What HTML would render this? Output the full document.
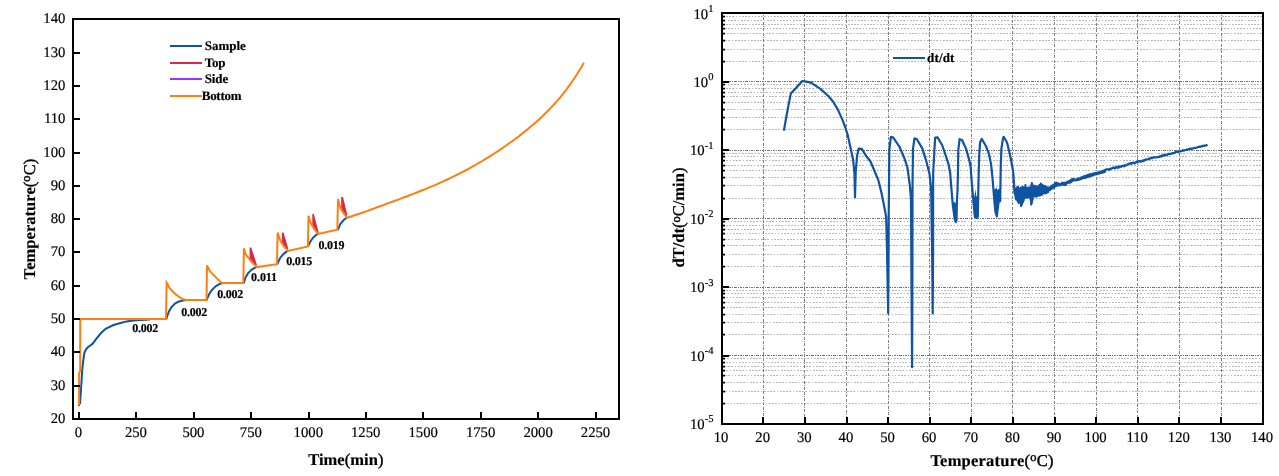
<!DOCTYPE html>
<html lang="en"><head><meta charset="utf-8"><title>Temperature curves</title>
<style>
html,body{margin:0;padding:0;background:#fff;}
body{width:1279px;height:476px;overflow:hidden;font-family:"Liberation Serif", "DejaVu Serif", serif;}
svg{display:block;}
svg text{stroke:#000;stroke-width:0.18px;}
svg .sb{stroke-width:0.4px;}
</style></head>
<body>
<svg width="1279" height="476" viewBox="0 0 1279 476" font-family='"Liberation Serif", "DejaVu Serif", serif' fill="#000" text-rendering="geometricPrecision">
<rect x="0" y="0" width="1279" height="476" fill="#fff"/>
<path d="M80.0,404.2 L80.7,394.0 L81.6,380.2 L82.2,370.2 L83.2,361.0 L84.3,353.0 L86.0,349.3 L88.5,346.8 L92.8,343.6 L96.0,339.2 L101.0,333.0 L106.0,328.6 L113.5,325.0 L120.4,323.0 L126.7,321.4 L133.0,320.4 L140.5,319.9 L150.0,319.5" fill="none" stroke="#0f53a3" stroke-width="2" stroke-linejoin="round"/>
<path d="M166.5,319.0 L167.0,316.6 L168.9,311.6 L171.4,307.2 L175.2,303.4 L179.0,301.5 L182.8,300.5 L186.5,300.0" fill="none" stroke="#0f53a3" stroke-width="2" stroke-linejoin="round"/>
<path d="M206.8,300.0 L207.3,298.3 L209.2,294.0 L211.7,290.2 L215.5,286.4 L219.3,284.1 L222.5,283.0" fill="none" stroke="#0f53a3" stroke-width="2" stroke-linejoin="round"/>
<path d="M243.6,283.0 L244.1,282.5 L245.4,277.8 L247.9,273.4 L251.7,269.6 L255.5,267.3 L256.7,267.1" fill="none" stroke="#0f53a3" stroke-width="2" stroke-linejoin="round"/>
<path d="M277.5,264.2 L277.9,262.9 L280.2,257.9 L283.3,254.1 L286.5,251.6 L288.0,250.9" fill="none" stroke="#0f53a3" stroke-width="2" stroke-linejoin="round"/>
<path d="M308.2,246.5 L308.5,245.3 L310.4,241.5 L313.0,237.7 L316.1,234.9 L318.0,234.0" fill="none" stroke="#0f53a3" stroke-width="2" stroke-linejoin="round"/>
<path d="M337.6,229.8 L338.3,229.1 L340.2,224.1 L343.4,220.3 L346.5,217.8 L347.2,217.8" fill="none" stroke="#0f53a3" stroke-width="2" stroke-linejoin="round"/>
<polygon points="249.6,247.4 251.2,247.4 257.0,265.0 255.8,266.2 250.6,259.5 249.6,258.5" fill="#d62a48"/>
<polygon points="281.9,232.5 283.5,232.5 288.3,248.8 287.0,250.0 282.8,244.0 281.9,243.0" fill="#d62a48"/>
<polygon points="312.3,214.0 313.8,214.0 318.8,232.8 317.5,234.0 313.2,226.0 312.3,224.5" fill="#d62a48"/>
<polygon points="341.2,196.9 343.0,196.9 347.3,215.0 346.0,216.5 342.0,209.5 341.2,208.0" fill="#d62a48"/>
<rect x="78" y="404" width="2" height="2" fill="#d62a48"/>
<path d="M79.1,405.0 L79.1,373.0 L80.2,371.0 L80.2,319.0 L166.0,319.0 L166.6,282.8 L168.3,285.8 L170.2,288.9 L175.2,293.9 L180.2,297.7 L184.0,299.6 L186.5,300.0 L206.5,300.0 L207.0,265.5 L210.1,271.5 L215.2,276.6 L220.2,281.6 L222.1,283.0 L243.3,283.0 L243.9,248.2 L245.4,253.9 L249.2,258.9 L253.0,263.3 L256.7,267.1 L277.0,264.2 L277.6,232.7 L280.2,240.2 L284.0,246.5 L288.0,250.9 L307.9,246.5 L308.5,215.7 L310.4,222.6 L314.2,228.9 L318.0,234.0 L337.3,229.8 L338.0,198.9 L340.2,207.7 L344.0,214.0 L347.2,217.8 L350.2,216.8 L353.2,215.8 L356.2,214.8 L359.2,213.8 L362.2,212.7 L365.2,211.6 L368.2,210.6 L371.2,209.5 L374.2,208.4 L377.2,207.3 L380.2,206.2 L383.2,205.1 L386.2,204.0 L389.2,202.9 L392.2,201.8 L395.2,200.7 L398.2,199.6 L401.2,198.4 L404.2,197.3 L407.2,196.2 L410.2,195.0 L413.2,193.9 L416.2,192.7 L419.2,191.5 L422.2,190.3 L425.2,189.1 L428.2,187.9 L431.2,186.6 L434.2,185.4 L437.2,184.1 L440.2,182.7 L443.2,181.4 L446.2,180.0 L449.2,178.6 L452.2,177.1 L455.2,175.7 L458.2,174.2 L461.2,172.6 L464.2,171.1 L467.2,169.5 L470.2,167.8 L473.2,166.2 L476.2,164.5 L479.2,162.7 L482.2,161.0 L485.2,159.2 L488.2,157.3 L491.2,155.4 L494.2,153.5 L497.2,151.6 L500.2,149.6 L503.2,147.5 L506.2,145.5 L509.2,143.3 L512.2,141.2 L515.2,139.0 L518.2,136.7 L521.2,134.4 L524.2,132.0 L527.2,129.6 L530.2,127.1 L533.2,124.5 L536.2,121.9 L539.2,119.2 L542.2,116.4 L545.2,113.5 L548.2,110.5 L551.2,107.4 L554.2,104.2 L557.2,100.8 L560.2,97.3 L563.2,93.6 L566.2,89.8 L569.2,85.7 L572.2,81.5 L575.2,77.0 L578.2,72.3 L581.2,67.4 L583.8,62.8" fill="none" stroke="#ff7f0e" stroke-width="2" stroke-linejoin="miter"/>
<rect x="73" y="19" width="546" height="400" fill="none" stroke="#000" stroke-width="2"/>
<text x="65.4" y="423.1" font-size="14.7" text-anchor="end">20</text>
<line x1="73" y1="386.00" x2="80" y2="386.00" stroke="#000" stroke-width="2"/>
<text x="65.4" y="390.1" font-size="14.7" text-anchor="end">30</text>
<line x1="73" y1="352.00" x2="80" y2="352.00" stroke="#000" stroke-width="2"/>
<text x="65.4" y="356.1" font-size="14.7" text-anchor="end">40</text>
<line x1="73" y1="319.00" x2="80" y2="319.00" stroke="#000" stroke-width="2"/>
<text x="65.4" y="323.1" font-size="14.7" text-anchor="end">50</text>
<line x1="73" y1="286.00" x2="80" y2="286.00" stroke="#000" stroke-width="2"/>
<text x="65.4" y="290.1" font-size="14.7" text-anchor="end">60</text>
<line x1="73" y1="252.00" x2="80" y2="252.00" stroke="#000" stroke-width="2"/>
<text x="65.4" y="256.1" font-size="14.7" text-anchor="end">70</text>
<line x1="73" y1="219.00" x2="80" y2="219.00" stroke="#000" stroke-width="2"/>
<text x="65.4" y="223.1" font-size="14.7" text-anchor="end">80</text>
<line x1="73" y1="186.00" x2="80" y2="186.00" stroke="#000" stroke-width="2"/>
<text x="65.4" y="190.1" font-size="14.7" text-anchor="end">90</text>
<line x1="73" y1="153.00" x2="80" y2="153.00" stroke="#000" stroke-width="2"/>
<text x="65.4" y="157.1" font-size="14.7" text-anchor="end">100</text>
<line x1="73" y1="119.00" x2="80" y2="119.00" stroke="#000" stroke-width="2"/>
<text x="65.4" y="123.1" font-size="14.7" text-anchor="end">110</text>
<line x1="73" y1="86.00" x2="80" y2="86.00" stroke="#000" stroke-width="2"/>
<text x="65.4" y="90.1" font-size="14.7" text-anchor="end">120</text>
<line x1="73" y1="53.00" x2="80" y2="53.00" stroke="#000" stroke-width="2"/>
<text x="65.4" y="57.1" font-size="14.7" text-anchor="end">130</text>
<text x="65.4" y="23.1" font-size="14.7" text-anchor="end">140</text>
<line x1="79" y1="419" x2="79" y2="412" stroke="#000" stroke-width="2"/>
<text x="78.5" y="437.1" font-size="14.7" text-anchor="middle">0</text>
<line x1="136" y1="419" x2="136" y2="412" stroke="#000" stroke-width="2"/>
<text x="135.9" y="437.1" font-size="14.7" text-anchor="middle">250</text>
<line x1="194" y1="419" x2="194" y2="412" stroke="#000" stroke-width="2"/>
<text x="193.4" y="437.1" font-size="14.7" text-anchor="middle">500</text>
<line x1="251" y1="419" x2="251" y2="412" stroke="#000" stroke-width="2"/>
<text x="250.8" y="437.1" font-size="14.7" text-anchor="middle">750</text>
<line x1="309" y1="419" x2="309" y2="412" stroke="#000" stroke-width="2"/>
<text x="308.3" y="437.1" font-size="14.7" text-anchor="middle">1000</text>
<line x1="366" y1="419" x2="366" y2="412" stroke="#000" stroke-width="2"/>
<text x="365.7" y="437.1" font-size="14.7" text-anchor="middle">1250</text>
<line x1="423" y1="419" x2="423" y2="412" stroke="#000" stroke-width="2"/>
<text x="423.2" y="437.1" font-size="14.7" text-anchor="middle">1500</text>
<line x1="481" y1="419" x2="481" y2="412" stroke="#000" stroke-width="2"/>
<text x="480.6" y="437.1" font-size="14.7" text-anchor="middle">1750</text>
<line x1="538" y1="419" x2="538" y2="412" stroke="#000" stroke-width="2"/>
<text x="538.1" y="437.1" font-size="14.7" text-anchor="middle">2000</text>
<line x1="596" y1="419" x2="596" y2="412" stroke="#000" stroke-width="2"/>
<text x="595.5" y="437.1" font-size="14.7" text-anchor="middle">2250</text>
<text x="345.8" y="464.7" font-size="16.5" font-weight="bold" text-anchor="middle" textLength="75.3" lengthAdjust="spacing">Time<tspan class="sb" font-weight="normal">(</tspan>min<tspan class="sb" font-weight="normal">)</tspan></text>
<text transform="translate(35,219.1) rotate(-90)" font-size="16.5" text-anchor="middle" textLength="120.6" lengthAdjust="spacing"><tspan font-weight="bold">Temperature</tspan><tspan class="sb">(</tspan><tspan class="sb" font-size="12.5" dy="-4.6">o</tspan><tspan class="sb" dy="4.6">C)</tspan></text>
<line x1="170" y1="46" x2="202" y2="46" stroke="#0f53a3" stroke-width="2"/>
<text x="204.7" y="50.1" font-size="13" font-weight="bold" textLength="41.2" lengthAdjust="spacing">Sample</text>
<line x1="170" y1="63" x2="202" y2="63" stroke="#d62a48" stroke-width="2"/>
<text x="204.7" y="66.9" font-size="13" font-weight="bold" textLength="20.9" lengthAdjust="spacing">Top</text>
<line x1="170" y1="79" x2="202" y2="79" stroke="#9a33ff" stroke-width="2"/>
<text x="204.7" y="83.1" font-size="13" font-weight="bold" textLength="23.5" lengthAdjust="spacing">Side</text>
<line x1="170" y1="96" x2="202" y2="96" stroke="#ff7f0e" stroke-width="2"/>
<text x="201.8" y="99.7" font-size="13" font-weight="bold" textLength="39.7" lengthAdjust="spacing">Bottom</text>
<text x="132.3" y="331.8" font-size="12" font-weight="bold" textLength="26" lengthAdjust="spacing">0.002</text>
<text x="181.2" y="316" font-size="12" font-weight="bold" textLength="26" lengthAdjust="spacing">0.002</text>
<text x="217.2" y="297.5" font-size="12" font-weight="bold" textLength="26" lengthAdjust="spacing">0.002</text>
<text x="251.1" y="280.6" font-size="12" font-weight="bold" textLength="26" lengthAdjust="spacing">0.011</text>
<text x="286.3" y="265.2" font-size="12" font-weight="bold" textLength="26" lengthAdjust="spacing">0.015</text>
<text x="318.4" y="248.5" font-size="12" font-weight="bold" textLength="26" lengthAdjust="spacing">0.019</text>
<line x1="723" y1="61.5" x2="1262" y2="61.5" stroke="#b8b8b8" stroke-width="1" stroke-dasharray="2 1 2 1 2 2 1 2" stroke-dashoffset="10"/>
<line x1="723" y1="49.5" x2="1262" y2="49.5" stroke="#b8b8b8" stroke-width="1" stroke-dasharray="2 1 2 1 2 2 1 2 1 2" stroke-dashoffset="15"/>
<line x1="723" y1="40.5" x2="1262" y2="40.5" stroke="#b8b8b8" stroke-width="1" stroke-dasharray="2 1 2 1 2 1 2 2 1 2" stroke-dashoffset="4"/>
<line x1="723" y1="33.5" x2="1262" y2="33.5" stroke="#b8b8b8" stroke-width="1" stroke-dasharray="2 1 2 1 2 2 1 2" stroke-dashoffset="9"/>
<line x1="723" y1="28.5" x2="1262" y2="28.5" stroke="#b8b8b8" stroke-width="1" stroke-dasharray="2 1 2 1 2 2 1 2 1 2" stroke-dashoffset="14"/>
<line x1="723" y1="24.5" x2="1262" y2="24.5" stroke="#b8b8b8" stroke-width="1" stroke-dasharray="2 1 2 1 2 1 2 2 1 2" stroke-dashoffset="3"/>
<line x1="723" y1="20.5" x2="1262" y2="20.5" stroke="#b8b8b8" stroke-width="1" stroke-dasharray="2 1 2 1 2 2 1 2" stroke-dashoffset="8"/>
<line x1="723" y1="16.5" x2="1262" y2="16.5" stroke="#b8b8b8" stroke-width="1" stroke-dasharray="2 1 2 1 2 2 1 2 1 2" stroke-dashoffset="13"/>
<line x1="723" y1="129.5" x2="1262" y2="129.5" stroke="#b8b8b8" stroke-width="1" stroke-dasharray="2 1 2 1 2 1 2 2 1 2" stroke-dashoffset="2"/>
<line x1="723" y1="117.5" x2="1262" y2="117.5" stroke="#b8b8b8" stroke-width="1" stroke-dasharray="2 1 2 1 2 2 1 2" stroke-dashoffset="7"/>
<line x1="723" y1="109.5" x2="1262" y2="109.5" stroke="#b8b8b8" stroke-width="1" stroke-dasharray="2 1 2 1 2 2 1 2 1 2" stroke-dashoffset="12"/>
<line x1="723" y1="102.5" x2="1262" y2="102.5" stroke="#b8b8b8" stroke-width="1" stroke-dasharray="2 1 2 1 2 1 2 2 1 2" stroke-dashoffset="1"/>
<line x1="723" y1="96.5" x2="1262" y2="96.5" stroke="#b8b8b8" stroke-width="1" stroke-dasharray="2 1 2 1 2 2 1 2" stroke-dashoffset="6"/>
<line x1="723" y1="92.5" x2="1262" y2="92.5" stroke="#b8b8b8" stroke-width="1" stroke-dasharray="2 1 2 1 2 2 1 2 1 2" stroke-dashoffset="11"/>
<line x1="723" y1="88.5" x2="1262" y2="88.5" stroke="#b8b8b8" stroke-width="1" stroke-dasharray="2 1 2 1 2 1 2 2 1 2" stroke-dashoffset="0"/>
<line x1="723" y1="84.5" x2="1262" y2="84.5" stroke="#b8b8b8" stroke-width="1" stroke-dasharray="2 1 2 1 2 2 1 2" stroke-dashoffset="5"/>
<line x1="723" y1="198.5" x2="1262" y2="198.5" stroke="#b8b8b8" stroke-width="1" stroke-dasharray="2 1 2 1 2 2 1 2 1 2" stroke-dashoffset="10"/>
<line x1="723" y1="185.5" x2="1262" y2="185.5" stroke="#b8b8b8" stroke-width="1" stroke-dasharray="2 1 2 1 2 1 2 2 1 2" stroke-dashoffset="15"/>
<line x1="723" y1="177.5" x2="1262" y2="177.5" stroke="#b8b8b8" stroke-width="1" stroke-dasharray="2 1 2 1 2 2 1 2" stroke-dashoffset="4"/>
<line x1="723" y1="170.5" x2="1262" y2="170.5" stroke="#b8b8b8" stroke-width="1" stroke-dasharray="2 1 2 1 2 2 1 2 1 2" stroke-dashoffset="9"/>
<line x1="723" y1="165.5" x2="1262" y2="165.5" stroke="#b8b8b8" stroke-width="1" stroke-dasharray="2 1 2 1 2 1 2 2 1 2" stroke-dashoffset="14"/>
<line x1="723" y1="160.5" x2="1262" y2="160.5" stroke="#b8b8b8" stroke-width="1" stroke-dasharray="2 1 2 1 2 2 1 2" stroke-dashoffset="3"/>
<line x1="723" y1="156.5" x2="1262" y2="156.5" stroke="#b8b8b8" stroke-width="1" stroke-dasharray="2 1 2 1 2 2 1 2 1 2" stroke-dashoffset="8"/>
<line x1="723" y1="153.5" x2="1262" y2="153.5" stroke="#b8b8b8" stroke-width="1" stroke-dasharray="2 1 2 1 2 1 2 2 1 2" stroke-dashoffset="13"/>
<line x1="723" y1="266.5" x2="1262" y2="266.5" stroke="#b8b8b8" stroke-width="1" stroke-dasharray="2 1 2 1 2 2 1 2" stroke-dashoffset="2"/>
<line x1="723" y1="254.5" x2="1262" y2="254.5" stroke="#b8b8b8" stroke-width="1" stroke-dasharray="2 1 2 1 2 2 1 2 1 2" stroke-dashoffset="7"/>
<line x1="723" y1="245.5" x2="1262" y2="245.5" stroke="#b8b8b8" stroke-width="1" stroke-dasharray="2 1 2 1 2 1 2 2 1 2" stroke-dashoffset="12"/>
<line x1="723" y1="239.5" x2="1262" y2="239.5" stroke="#b8b8b8" stroke-width="1" stroke-dasharray="2 1 2 1 2 2 1 2" stroke-dashoffset="1"/>
<line x1="723" y1="233.5" x2="1262" y2="233.5" stroke="#b8b8b8" stroke-width="1" stroke-dasharray="2 1 2 1 2 2 1 2 1 2" stroke-dashoffset="6"/>
<line x1="723" y1="229.5" x2="1262" y2="229.5" stroke="#b8b8b8" stroke-width="1" stroke-dasharray="2 1 2 1 2 1 2 2 1 2" stroke-dashoffset="11"/>
<line x1="723" y1="225.5" x2="1262" y2="225.5" stroke="#b8b8b8" stroke-width="1" stroke-dasharray="2 1 2 1 2 2 1 2" stroke-dashoffset="0"/>
<line x1="723" y1="221.5" x2="1262" y2="221.5" stroke="#b8b8b8" stroke-width="1" stroke-dasharray="2 1 2 1 2 2 1 2 1 2" stroke-dashoffset="5"/>
<line x1="723" y1="334.5" x2="1262" y2="334.5" stroke="#b8b8b8" stroke-width="1" stroke-dasharray="2 1 2 1 2 1 2 2 1 2" stroke-dashoffset="10"/>
<line x1="723" y1="322.5" x2="1262" y2="322.5" stroke="#b8b8b8" stroke-width="1" stroke-dasharray="2 1 2 1 2 2 1 2" stroke-dashoffset="15"/>
<line x1="723" y1="314.5" x2="1262" y2="314.5" stroke="#b8b8b8" stroke-width="1" stroke-dasharray="2 1 2 1 2 2 1 2 1 2" stroke-dashoffset="4"/>
<line x1="723" y1="307.5" x2="1262" y2="307.5" stroke="#b8b8b8" stroke-width="1" stroke-dasharray="2 1 2 1 2 1 2 2 1 2" stroke-dashoffset="9"/>
<line x1="723" y1="302.5" x2="1262" y2="302.5" stroke="#b8b8b8" stroke-width="1" stroke-dasharray="2 1 2 1 2 2 1 2" stroke-dashoffset="14"/>
<line x1="723" y1="297.5" x2="1262" y2="297.5" stroke="#b8b8b8" stroke-width="1" stroke-dasharray="2 1 2 1 2 2 1 2 1 2" stroke-dashoffset="3"/>
<line x1="723" y1="293.5" x2="1262" y2="293.5" stroke="#b8b8b8" stroke-width="1" stroke-dasharray="2 1 2 1 2 1 2 2 1 2" stroke-dashoffset="8"/>
<line x1="723" y1="290.5" x2="1262" y2="290.5" stroke="#b8b8b8" stroke-width="1" stroke-dasharray="2 1 2 1 2 2 1 2" stroke-dashoffset="13"/>
<line x1="723" y1="403.5" x2="1262" y2="403.5" stroke="#b8b8b8" stroke-width="1" stroke-dasharray="2 1 2 1 2 2 1 2 1 2" stroke-dashoffset="2"/>
<line x1="723" y1="391.5" x2="1262" y2="391.5" stroke="#b8b8b8" stroke-width="1" stroke-dasharray="2 1 2 1 2 1 2 2 1 2" stroke-dashoffset="7"/>
<line x1="723" y1="382.5" x2="1262" y2="382.5" stroke="#b8b8b8" stroke-width="1" stroke-dasharray="2 1 2 1 2 2 1 2" stroke-dashoffset="12"/>
<line x1="723" y1="375.5" x2="1262" y2="375.5" stroke="#b8b8b8" stroke-width="1" stroke-dasharray="2 1 2 1 2 2 1 2 1 2" stroke-dashoffset="1"/>
<line x1="723" y1="370.5" x2="1262" y2="370.5" stroke="#b8b8b8" stroke-width="1" stroke-dasharray="2 1 2 1 2 1 2 2 1 2" stroke-dashoffset="6"/>
<line x1="723" y1="366.5" x2="1262" y2="366.5" stroke="#b8b8b8" stroke-width="1" stroke-dasharray="2 1 2 1 2 2 1 2" stroke-dashoffset="11"/>
<line x1="723" y1="362.5" x2="1262" y2="362.5" stroke="#b8b8b8" stroke-width="1" stroke-dasharray="2 1 2 1 2 2 1 2 1 2" stroke-dashoffset="0"/>
<line x1="723" y1="358.5" x2="1262" y2="358.5" stroke="#b8b8b8" stroke-width="1" stroke-dasharray="2 1 2 1 2 1 2 2 1 2" stroke-dashoffset="5"/>
<line x1="723" y1="81.5" x2="1262" y2="81.5" stroke="#727272" stroke-width="1" stroke-dasharray="3 1 1 1 2 1 1 1"/>
<line x1="723" y1="150.5" x2="1262" y2="150.5" stroke="#727272" stroke-width="1" stroke-dasharray="3 1 1 1 2 1 1 1"/>
<line x1="723" y1="218.5" x2="1262" y2="218.5" stroke="#727272" stroke-width="1" stroke-dasharray="3 1 1 1 2 1 1 1"/>
<line x1="723" y1="287.5" x2="1262" y2="287.5" stroke="#727272" stroke-width="1" stroke-dasharray="3 1 1 1 2 1 1 1"/>
<line x1="723" y1="355.5" x2="1262" y2="355.5" stroke="#727272" stroke-width="1" stroke-dasharray="3 1 1 1 2 1 1 1"/>
<line x1="763.5" y1="14" x2="763.5" y2="423" stroke="#828282" stroke-width="1" stroke-dasharray="3 2 3 1 1 1" stroke-dashoffset="8"/>
<line x1="804.5" y1="14" x2="804.5" y2="423" stroke="#828282" stroke-width="1" stroke-dasharray="3 2 3 1 1 1" stroke-dashoffset="1"/>
<line x1="846.5" y1="14" x2="846.5" y2="423" stroke="#828282" stroke-width="1" stroke-dasharray="3 2 3 1 1 1" stroke-dashoffset="5"/>
<line x1="888.5" y1="14" x2="888.5" y2="423" stroke="#828282" stroke-width="1" stroke-dasharray="3 2 3 1 1 1" stroke-dashoffset="9"/>
<line x1="929.5" y1="14" x2="929.5" y2="423" stroke="#828282" stroke-width="1" stroke-dasharray="3 2 3 1 1 1" stroke-dashoffset="2"/>
<line x1="971.5" y1="14" x2="971.5" y2="423" stroke="#828282" stroke-width="1" stroke-dasharray="3 2 3 1 1 1" stroke-dashoffset="6"/>
<line x1="1012.5" y1="14" x2="1012.5" y2="423" stroke="#828282" stroke-width="1" stroke-dasharray="3 2 3 1 1 1" stroke-dashoffset="10"/>
<line x1="1054.5" y1="14" x2="1054.5" y2="423" stroke="#828282" stroke-width="1" stroke-dasharray="3 2 3 1 1 1" stroke-dashoffset="3"/>
<line x1="1096.5" y1="14" x2="1096.5" y2="423" stroke="#828282" stroke-width="1" stroke-dasharray="3 2 3 1 1 1" stroke-dashoffset="7"/>
<line x1="1137.5" y1="14" x2="1137.5" y2="423" stroke="#828282" stroke-width="1" stroke-dasharray="3 2 3 1 1 1" stroke-dashoffset="0"/>
<line x1="1179.5" y1="14" x2="1179.5" y2="423" stroke="#828282" stroke-width="1" stroke-dasharray="3 2 3 1 1 1" stroke-dashoffset="4"/>
<line x1="1221.5" y1="14" x2="1221.5" y2="423" stroke="#828282" stroke-width="1" stroke-dasharray="3 2 3 1 1 1" stroke-dashoffset="8"/>
<path d="M783.9,130.6 L786.5,115.7 L788.9,103.1 L790.8,93.6 L796.0,88.1 L802.3,81.0 L806.0,81.6 L810.9,82.6 L820.4,88.9 L828.3,96.0 L833.0,101.5 L837.7,109.4 L842.4,119.6 L845.0,126.5 L847.6,134.6 L850.0,145.5 L853.1,159.6 L854.5,173.8 L855.0,197.4 L855.7,172.2 L857.0,156.5 L858.6,148.6 L861.8,148.9 L866.5,156.5 L870.4,161.2 L874.4,170.7 L878.3,180.1 L881.5,193.0 L883.8,204.4 L886.2,217.0 L887.0,250.0 L888.2,313.3 L888.6,250.0 L888.7,217.0 L889.3,150.2 L890.9,136.8 L893.3,137.6 L899.6,147.0 L904.3,158.0 L907.4,167.5 L909.8,184.8 L911.0,199.0 L911.5,285.0 L912.1,367.2 L912.4,285.0 L912.5,188.0 L913.0,148.6 L914.5,138.4 L916.9,139.2 L922.4,148.6 L926.3,161.2 L929.5,173.8 L931.1,188.0 L932.1,250.0 L932.7,313.3 L933.1,250.0 L933.1,200.0 L933.2,172.2 L934.4,150.2 L935.2,137.6 L937.6,137.3 L942.3,145.5 L945.5,154.9 L948.6,164.4 L950.2,173.0 L951.1,185.0 L952.7,204.0 L954.9,220.4 L955.9,222.0 L956.5,220.4 L956.9,201.5 L957.5,191.0 L958.0,170.0 L958.3,150.2 L959.6,139.2 L962.0,140.0 L966.0,148.6 L969.1,159.6 L970.7,167.0 L971.4,178.0 L972.1,186.4 L973.4,201.5 L974.8,216.2 L975.5,217.5 L977.3,217.5 L977.8,216.2 L978.4,186.4 L978.7,172.2 L979.3,153.3 L980.1,142.3 L981.7,138.9 L985.6,145.5 L988.8,153.3 L991.1,164.4 L992.8,181.7 L994.2,199.0 L995.4,211.6 L996.9,216.5 L997.4,211.0 L998.6,202.0 L1000.2,201.0 L1000.5,182.6 L1000.8,164.4 L1001.4,148.6 L1003.0,138.4 L1003.7,136.8 L1006.9,142.3 L1009.3,151.8 L1011.6,162.8 L1013.2,172.2 L1013.9,182.0 L1014.4,191.2 L1014.6,193.4 L1014.9,191.3 L1015.1,195.0 L1015.4,190.8 L1015.6,197.3 L1015.9,189.1 L1016.1,199.5 L1016.4,188.3 L1016.6,199.4 L1016.9,187.5 L1017.1,198.2 L1017.4,188.1 L1017.6,201.0 L1017.9,186.8 L1018.1,199.2 L1018.4,189.2 L1018.6,203.0 L1018.9,189.2 L1019.1,201.5 L1019.4,191.3 L1019.6,200.7 L1019.9,191.2 L1020.1,202.6 L1020.4,187.9 L1020.6,202.4 L1020.9,188.5 L1021.1,206.0 L1021.4,187.7 L1021.6,205.0 L1021.9,189.8 L1022.1,204.1 L1022.4,189.2 L1022.6,202.6 L1022.9,186.8 L1023.1,201.6 L1023.4,189.5 L1023.6,200.5 L1023.9,188.2 L1024.2,198.7 L1024.4,187.8 L1024.7,196.5 L1024.9,187.6 L1025.2,197.2 L1025.4,185.2 L1025.7,196.5 L1025.9,187.1 L1026.2,197.7 L1026.4,188.6 L1026.7,196.1 L1026.9,190.0 L1027.2,195.9 L1027.4,188.5 L1027.7,197.6 L1027.9,187.9 L1028.2,196.8 L1028.4,187.7 L1028.7,197.2 L1028.9,189.7 L1029.2,196.9 L1029.4,190.0 L1029.7,196.2 L1029.9,188.8 L1030.2,198.3 L1030.4,187.1 L1030.7,199.9 L1030.9,187.2 L1031.2,204.6 L1031.4,184.5 L1031.7,203.5 L1031.9,183.2 L1032.2,201.0 L1032.4,186.6 L1032.7,199.4 L1032.9,187.5 L1033.2,194.7 L1033.4,186.4 L1033.7,195.9 L1033.9,185.6 L1034.2,195.4 L1034.4,186.2 L1034.7,194.6 L1034.9,186.1 L1035.2,196.5 L1035.4,186.5 L1035.7,195.2 L1035.9,187.3 L1036.2,196.7 L1036.4,186.4 L1036.7,195.2 L1036.9,187.6 L1037.2,196.0 L1037.4,188.2 L1037.7,195.6 L1037.9,186.7 L1038.2,194.3 L1038.4,186.5 L1038.7,195.7 L1038.9,187.8 L1039.2,194.0 L1039.4,185.1 L1039.7,194.3 L1039.9,184.8 L1040.2,195.3 L1040.4,185.6 L1040.7,194.7 L1040.9,183.6 L1041.2,194.8 L1041.4,184.8 L1041.7,194.7 L1041.9,186.5 L1042.2,194.4 L1042.4,185.2 L1042.7,193.6 L1042.9,185.6 L1043.2,191.6 L1043.4,186.3 L1043.7,193.0 L1043.9,186.7 L1044.2,193.3 L1044.4,186.0 L1044.7,192.6 L1044.9,185.9 L1045.2,193.3 L1045.4,186.3 L1045.7,192.3 L1045.9,187.1 L1046.2,192.8 L1046.4,187.8 L1046.7,192.8 L1046.9,187.4 L1047.2,192.5 L1047.4,187.7 L1047.7,192.1 L1047.9,187.7 L1048.2,192.0 L1048.4,188.3 L1048.7,190.5 L1048.9,187.9 L1049.2,190.1 L1049.4,187.6 L1049.7,189.6 L1049.9,187.6 L1050.2,189.9 L1050.4,187.0 L1050.7,189.2 L1050.9,186.4 L1051.2,188.6 L1051.4,186.3 L1051.7,188.4 L1051.9,186.3 L1052.2,188.0 L1052.4,185.3 L1052.7,188.3 L1052.9,185.4 L1053.2,187.3 L1053.4,185.0 L1053.7,186.9 L1053.9,184.6 L1054.2,187.3 L1054.4,184.5 L1054.7,186.8 L1054.9,183.7 L1055.2,186.2 L1055.4,183.2 L1055.7,186.2 L1055.9,183.2 L1056.2,185.9 L1056.4,182.7 L1056.7,185.2 L1056.9,183.3 L1057.2,185.7 L1057.4,183.5 L1057.7,185.5 L1057.9,183.7 L1058.2,185.4 L1058.4,183.5 L1058.7,185.2 L1058.9,183.8 L1059.2,185.0 L1059.4,183.9 L1059.7,185.1 L1059.9,184.0 L1060.2,185.1 L1060.4,184.0 L1060.7,184.9 L1060.9,183.8 L1061.2,185.1 L1061.4,183.6 L1061.7,184.7 L1061.9,183.0 L1062.2,184.5 L1062.4,182.7 L1062.7,184.4 L1062.9,182.8 L1063.2,184.7 L1063.4,183.1 L1063.7,184.6 L1063.9,183.1 L1064.2,185.0 L1064.4,182.9 L1064.7,185.1 L1064.9,183.3 L1065.2,184.9 L1065.4,183.0 L1065.7,184.3 L1065.9,182.5 L1066.2,184.1 L1066.4,182.3 L1066.7,183.7 L1066.9,182.3 L1067.2,183.2 L1067.4,181.9 L1067.7,183.1 L1067.9,181.8 L1068.2,182.7 L1068.4,181.3 L1068.7,182.6 L1068.9,181.4 L1069.2,182.7 L1069.4,180.8 L1069.7,182.7 L1069.9,181.0 L1070.2,182.5 L1070.4,180.5 L1070.7,182.3 L1070.9,180.0 L1071.2,181.6 L1071.4,180.1 L1071.7,181.5 L1071.9,179.4 L1072.2,181.2 L1072.4,179.0 L1072.7,180.6 L1072.9,179.0 L1073.2,180.0 L1073.4,179.0 L1073.7,180.1 L1073.9,179.2 L1074.2,180.3 L1074.4,179.5 L1074.7,180.2 L1074.9,179.7 L1075.2,180.4 L1075.4,179.6 L1075.7,180.2 L1075.9,179.5 L1076.2,180.2 L1076.4,179.3 L1076.7,180.1 L1076.9,179.2 L1077.2,179.9 L1077.4,179.1 L1077.7,179.7 L1077.9,179.0 L1078.2,179.7 L1078.4,178.7 L1078.7,179.8 L1078.9,178.6 L1079.2,179.6 L1079.4,178.6 L1079.7,179.4 L1079.9,178.2 L1080.2,179.3 L1080.4,178.1 L1080.7,179.2 L1080.9,177.7 L1081.2,178.9 L1081.4,177.5 L1081.7,178.6 L1081.9,177.4 L1082.2,178.5 L1082.4,177.1 L1082.7,178.5 L1082.9,177.0 L1083.2,178.2 L1083.4,176.7 L1083.7,178.0 L1083.9,176.4 L1084.2,177.9 L1084.4,176.2 L1084.7,177.7 L1084.9,176.1 L1085.2,177.8 L1085.4,176.0 L1085.7,177.6 L1085.9,176.0 L1086.2,177.1 L1086.4,175.7 L1086.7,177.3 L1086.9,175.7 L1087.2,176.8 L1087.4,175.2 L1087.7,176.8 L1087.9,175.0 L1088.2,176.5 L1088.4,174.8 L1088.7,176.6 L1088.9,175.0 L1089.2,176.5 L1089.4,174.6 L1089.7,176.3 L1089.9,174.7 L1090.2,175.9 L1090.4,174.6 L1090.7,176.1 L1090.9,174.2 L1091.2,176.0 L1091.4,174.1 L1091.7,175.6 L1091.9,174.2 L1092.2,175.6 L1092.4,173.8 L1092.7,175.3 L1092.9,173.8 L1093.2,175.1 L1093.4,173.6 L1093.7,174.9 L1093.9,173.7 L1094.2,174.7 L1094.4,173.5 L1094.7,174.7 L1094.9,173.2 L1095.2,174.5 L1095.4,173.3 L1095.7,174.4 L1095.9,173.0 L1096.2,174.5 L1096.4,173.2 L1096.7,174.3 L1096.9,172.8 L1097.2,173.9 L1097.4,172.7 L1097.7,174.0 L1097.9,172.7 L1098.2,173.6 L1098.4,172.6 L1098.7,173.7 L1098.9,172.6 L1099.2,173.4 L1099.4,172.3 L1099.7,173.4 L1099.9,172.3 L1100.2,173.2 L1100.4,171.9 L1100.7,172.8 L1100.9,171.9 L1101.2,172.8 L1101.4,171.5 L1101.7,172.8 L1101.9,171.5 L1102.2,172.6 L1102.4,171.0 L1102.7,172.5 L1102.9,170.8 L1103.2,172.4 L1103.4,170.8 L1103.7,172.0 L1103.9,170.6 L1104.2,172.1 L1104.4,170.3 L1104.7,171.6 L1104.9,170.2 L1105.2,171.5 L1105.2,169.8 L1105.9,169.7 L1106.6,169.3 L1107.3,169.4 L1108.0,169.4 L1108.7,169.2 L1109.4,169.9 L1110.1,168.9 L1110.8,169.0 L1111.5,168.3 L1112.2,168.4 L1112.9,167.7 L1113.6,167.9 L1114.3,167.3 L1115.0,168.3 L1115.7,167.8 L1116.4,167.0 L1117.1,167.3 L1117.8,167.9 L1118.5,166.4 L1119.2,167.3 L1119.9,166.5 L1120.6,166.4 L1121.3,166.8 L1122.0,165.9 L1122.7,165.9 L1123.4,166.0 L1124.1,166.3 L1124.8,165.1 L1125.5,165.7 L1126.2,165.3 L1126.9,165.0 L1127.6,164.4 L1128.3,164.2 L1129.0,163.6 L1129.7,163.5 L1130.4,163.2 L1131.1,164.0 L1131.8,163.1 L1132.5,162.8 L1133.2,162.5 L1133.9,163.4 L1134.6,163.3 L1135.3,162.8 L1136.0,162.1 L1136.7,161.8 L1137.4,161.7 L1138.1,161.8 L1138.8,161.2 L1139.5,161.4 L1140.2,161.0 L1140.9,161.7 L1141.6,161.6 L1142.3,160.8 L1143.0,160.3 L1143.7,161.0 L1144.4,160.0 L1145.1,159.9 L1145.8,159.3 L1146.5,159.6 L1147.2,159.5 L1147.9,159.4 L1148.6,158.8 L1149.3,159.0 L1150.0,158.2 L1150.7,158.4 L1151.4,158.0 L1152.1,158.2 L1152.8,157.6 L1153.5,157.4 L1154.2,157.5 L1154.9,157.3 L1155.6,157.5 L1156.3,157.3 L1157.0,157.3 L1157.7,157.0 L1158.4,156.9 L1159.1,156.9 L1159.8,156.2 L1160.5,156.0 L1161.2,156.5 L1161.9,155.5 L1162.6,155.9 L1163.3,155.6 L1164.0,154.8 L1164.7,155.4 L1165.4,155.3 L1166.1,154.9 L1166.8,154.8 L1167.5,154.7 L1168.2,153.9 L1168.9,154.1 L1169.6,153.9 L1170.3,154.0 L1171.0,153.8 L1171.7,153.6 L1172.4,153.2 L1173.1,153.3 L1173.8,153.0 L1174.5,152.8 L1175.2,152.2 L1175.9,151.9 L1176.6,151.8 L1177.3,151.8 L1178.0,151.4 L1178.7,151.8 L1179.4,151.5 L1180.1,151.3 L1180.8,151.2 L1181.5,151.1 L1182.2,150.8 L1182.9,150.2 L1183.6,150.7 L1184.3,150.5 L1185.0,150.1 L1185.7,150.0 L1186.4,149.9 L1187.1,149.4 L1187.8,149.7 L1188.5,149.2 L1189.2,148.9 L1189.9,148.9 L1190.6,149.0 L1191.3,148.5 L1192.0,148.7 L1192.7,148.7 L1193.4,148.2 L1194.1,148.0 L1194.8,147.9 L1195.5,147.9 L1196.2,147.7 L1196.9,147.5 L1197.6,147.3 L1198.3,146.9 L1199.0,146.8 L1199.7,146.7 L1200.4,146.8 L1201.1,146.4 L1201.8,146.4 L1202.5,145.9 L1203.2,145.8 L1203.9,145.7 L1204.6,145.8 L1205.3,145.6 L1206.0,145.4 L1206.7,145.1 L1207.4,145.1 L1207.6,145.0" fill="none" stroke="#0f53a3" stroke-width="2.2" stroke-linejoin="round"/>
<polygon points="953.0,203.5 954.3,201.5 955.5,203.5 956.7,201.5 956.4,220.5 955.9,222.3 955.0,220.5" fill="#0f53a3"/>
<polygon points="973.2,199.0 974.5,196.0 975.5,189.0 976.3,197.0 977.2,195.0 978.3,197.0 978.2,217.0 977.5,218.3 975.5,218.3 974.6,217.0" fill="#0f53a3"/>
<polygon points="993.4,189.0 995.0,189.5 996.3,187.5 997.5,190.0 999.0,188.5 1000.6,190.0 1000.4,201.5 998.6,202.0 997.4,216.5 996.6,216.5 995.4,211.6 994.2,199.0" fill="#0f53a3"/>
<rect x="722" y="13" width="541" height="411" fill="none" stroke="#000" stroke-width="2"/>
<line x1="722" y1="61.60" x2="725" y2="61.60" stroke="#000" stroke-width="1.8"/>
<line x1="722" y1="49.60" x2="725" y2="49.60" stroke="#000" stroke-width="1.8"/>
<line x1="722" y1="40.60" x2="725" y2="40.60" stroke="#000" stroke-width="1.8"/>
<line x1="722" y1="33.60" x2="725" y2="33.60" stroke="#000" stroke-width="1.8"/>
<line x1="722" y1="28.60" x2="725" y2="28.60" stroke="#000" stroke-width="1.8"/>
<line x1="722" y1="24.60" x2="725" y2="24.60" stroke="#000" stroke-width="1.8"/>
<line x1="722" y1="20.60" x2="725" y2="20.60" stroke="#000" stroke-width="1.8"/>
<line x1="722" y1="16.60" x2="725" y2="16.60" stroke="#000" stroke-width="1.8"/>
<line x1="722" y1="129.60" x2="725" y2="129.60" stroke="#000" stroke-width="1.8"/>
<line x1="722" y1="117.60" x2="725" y2="117.60" stroke="#000" stroke-width="1.8"/>
<line x1="722" y1="109.60" x2="725" y2="109.60" stroke="#000" stroke-width="1.8"/>
<line x1="722" y1="102.60" x2="725" y2="102.60" stroke="#000" stroke-width="1.8"/>
<line x1="722" y1="96.60" x2="725" y2="96.60" stroke="#000" stroke-width="1.8"/>
<line x1="722" y1="92.60" x2="725" y2="92.60" stroke="#000" stroke-width="1.8"/>
<line x1="722" y1="88.60" x2="725" y2="88.60" stroke="#000" stroke-width="1.8"/>
<line x1="722" y1="84.60" x2="725" y2="84.60" stroke="#000" stroke-width="1.8"/>
<line x1="722" y1="198.60" x2="725" y2="198.60" stroke="#000" stroke-width="1.8"/>
<line x1="722" y1="185.60" x2="725" y2="185.60" stroke="#000" stroke-width="1.8"/>
<line x1="722" y1="177.60" x2="725" y2="177.60" stroke="#000" stroke-width="1.8"/>
<line x1="722" y1="170.60" x2="725" y2="170.60" stroke="#000" stroke-width="1.8"/>
<line x1="722" y1="165.60" x2="725" y2="165.60" stroke="#000" stroke-width="1.8"/>
<line x1="722" y1="160.60" x2="725" y2="160.60" stroke="#000" stroke-width="1.8"/>
<line x1="722" y1="156.60" x2="725" y2="156.60" stroke="#000" stroke-width="1.8"/>
<line x1="722" y1="153.60" x2="725" y2="153.60" stroke="#000" stroke-width="1.8"/>
<line x1="722" y1="266.60" x2="725" y2="266.60" stroke="#000" stroke-width="1.8"/>
<line x1="722" y1="254.60" x2="725" y2="254.60" stroke="#000" stroke-width="1.8"/>
<line x1="722" y1="245.60" x2="725" y2="245.60" stroke="#000" stroke-width="1.8"/>
<line x1="722" y1="239.60" x2="725" y2="239.60" stroke="#000" stroke-width="1.8"/>
<line x1="722" y1="233.60" x2="725" y2="233.60" stroke="#000" stroke-width="1.8"/>
<line x1="722" y1="229.60" x2="725" y2="229.60" stroke="#000" stroke-width="1.8"/>
<line x1="722" y1="225.60" x2="725" y2="225.60" stroke="#000" stroke-width="1.8"/>
<line x1="722" y1="221.60" x2="725" y2="221.60" stroke="#000" stroke-width="1.8"/>
<line x1="722" y1="334.60" x2="725" y2="334.60" stroke="#000" stroke-width="1.8"/>
<line x1="722" y1="322.60" x2="725" y2="322.60" stroke="#000" stroke-width="1.8"/>
<line x1="722" y1="314.60" x2="725" y2="314.60" stroke="#000" stroke-width="1.8"/>
<line x1="722" y1="307.60" x2="725" y2="307.60" stroke="#000" stroke-width="1.8"/>
<line x1="722" y1="302.60" x2="725" y2="302.60" stroke="#000" stroke-width="1.8"/>
<line x1="722" y1="297.60" x2="725" y2="297.60" stroke="#000" stroke-width="1.8"/>
<line x1="722" y1="293.60" x2="725" y2="293.60" stroke="#000" stroke-width="1.8"/>
<line x1="722" y1="290.60" x2="725" y2="290.60" stroke="#000" stroke-width="1.8"/>
<line x1="722" y1="403.60" x2="725" y2="403.60" stroke="#000" stroke-width="1.8"/>
<line x1="722" y1="391.60" x2="725" y2="391.60" stroke="#000" stroke-width="1.8"/>
<line x1="722" y1="382.60" x2="725" y2="382.60" stroke="#000" stroke-width="1.8"/>
<line x1="722" y1="375.60" x2="725" y2="375.60" stroke="#000" stroke-width="1.8"/>
<line x1="722" y1="370.60" x2="725" y2="370.60" stroke="#000" stroke-width="1.8"/>
<line x1="722" y1="366.60" x2="725" y2="366.60" stroke="#000" stroke-width="1.8"/>
<line x1="722" y1="362.60" x2="725" y2="362.60" stroke="#000" stroke-width="1.8"/>
<line x1="722" y1="358.60" x2="725" y2="358.60" stroke="#000" stroke-width="1.8"/>
<text x="713.4" y="18.5" font-size="14.7" text-anchor="end">10<tspan font-size="10.5" dy="-6.5">1</tspan></text>
<line x1="722" y1="82.00" x2="729" y2="82.00" stroke="#000" stroke-width="2"/>
<text x="713.4" y="86.9" font-size="14.7" text-anchor="end">10<tspan font-size="10.5" dy="-6.5">0</tspan></text>
<line x1="722" y1="150.00" x2="729" y2="150.00" stroke="#000" stroke-width="2"/>
<text x="713.4" y="155.3" font-size="14.7" text-anchor="end">10<tspan font-size="10.5" dy="-6.5">-1</tspan></text>
<line x1="722" y1="219.00" x2="729" y2="219.00" stroke="#000" stroke-width="2"/>
<text x="713.4" y="223.7" font-size="14.7" text-anchor="end">10<tspan font-size="10.5" dy="-6.5">-2</tspan></text>
<line x1="722" y1="287.00" x2="729" y2="287.00" stroke="#000" stroke-width="2"/>
<text x="713.4" y="292.1" font-size="14.7" text-anchor="end">10<tspan font-size="10.5" dy="-6.5">-3</tspan></text>
<line x1="722" y1="356.00" x2="729" y2="356.00" stroke="#000" stroke-width="2"/>
<text x="713.4" y="360.5" font-size="14.7" text-anchor="end">10<tspan font-size="10.5" dy="-6.5">-4</tspan></text>
<text x="713.4" y="428.9" font-size="14.7" text-anchor="end">10<tspan font-size="10.5" dy="-6.5">-5</tspan></text>
<text x="721.1" y="442.3" font-size="14.7" text-anchor="middle">10</text>
<line x1="763.00" y1="424" x2="763.00" y2="417" stroke="#000" stroke-width="2"/>
<text x="762.7" y="442.3" font-size="14.7" text-anchor="middle">20</text>
<line x1="805.00" y1="424" x2="805.00" y2="417" stroke="#000" stroke-width="2"/>
<text x="804.3" y="442.3" font-size="14.7" text-anchor="middle">30</text>
<line x1="847.00" y1="424" x2="847.00" y2="417" stroke="#000" stroke-width="2"/>
<text x="845.9" y="442.3" font-size="14.7" text-anchor="middle">40</text>
<line x1="888.00" y1="424" x2="888.00" y2="417" stroke="#000" stroke-width="2"/>
<text x="887.5" y="442.3" font-size="14.7" text-anchor="middle">50</text>
<line x1="930.00" y1="424" x2="930.00" y2="417" stroke="#000" stroke-width="2"/>
<text x="929.1" y="442.3" font-size="14.7" text-anchor="middle">60</text>
<line x1="971.00" y1="424" x2="971.00" y2="417" stroke="#000" stroke-width="2"/>
<text x="970.8" y="442.3" font-size="14.7" text-anchor="middle">70</text>
<line x1="1013.00" y1="424" x2="1013.00" y2="417" stroke="#000" stroke-width="2"/>
<text x="1012.4" y="442.3" font-size="14.7" text-anchor="middle">80</text>
<line x1="1055.00" y1="424" x2="1055.00" y2="417" stroke="#000" stroke-width="2"/>
<text x="1054.0" y="442.3" font-size="14.7" text-anchor="middle">90</text>
<line x1="1096.00" y1="424" x2="1096.00" y2="417" stroke="#000" stroke-width="2"/>
<text x="1095.6" y="442.3" font-size="14.7" text-anchor="middle">100</text>
<line x1="1138.00" y1="424" x2="1138.00" y2="417" stroke="#000" stroke-width="2"/>
<text x="1137.2" y="442.3" font-size="14.7" text-anchor="middle">110</text>
<line x1="1179.00" y1="424" x2="1179.00" y2="417" stroke="#000" stroke-width="2"/>
<text x="1178.8" y="442.3" font-size="14.7" text-anchor="middle">120</text>
<line x1="1221.00" y1="424" x2="1221.00" y2="417" stroke="#000" stroke-width="2"/>
<text x="1220.4" y="442.3" font-size="14.7" text-anchor="middle">130</text>
<text x="1262.0" y="442.3" font-size="14.7" text-anchor="middle">140</text>
<text x="930.4" y="465.8" font-size="16.5" textLength="123" lengthAdjust="spacing"><tspan font-weight="bold">Temperature</tspan><tspan class="sb">(</tspan><tspan class="sb" font-size="12.5" dy="-4.6">o</tspan><tspan class="sb" dy="4.6">C)</tspan></text>
<text transform="translate(684.1,217.6) rotate(-90)" font-size="16.5" font-weight="bold" text-anchor="middle" textLength="100" lengthAdjust="spacing">dT/dt<tspan class="sb" font-weight="normal">(</tspan><tspan class="sb" font-weight="normal" font-size="12.5" dy="-4.6">o</tspan><tspan class="sb" font-weight="normal" dy="4.6">C/</tspan>min<tspan class="sb" font-weight="normal">)</tspan></text>
<line x1="893" y1="58" x2="925" y2="58" stroke="#0f53a3" stroke-width="2"/>
<text x="927.1" y="61.7" font-size="13" font-weight="bold" textLength="27.3" lengthAdjust="spacing">dt/dt</text>
</svg>
</body></html>
